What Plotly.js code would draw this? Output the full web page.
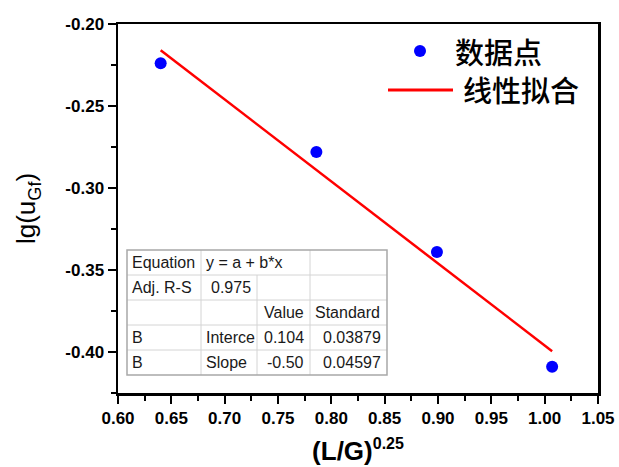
<!DOCTYPE html>
<html>
<head>
<meta charset="utf-8">
<script src="https://cdn.plot.ly/plotly-3.0.1.min.js"></script>
<style>
  html, body { margin: 0; padding: 0; background: #ffffff; }
  #chart { width: 619px; height: 467px; }
</style>
</head>
<body>
<div id="chart"></div>
<script>
// Measured points: x = (L/G)^0.25, y = lg(u_Gf)
const xValues = [0.640, 0.786, 0.899, 1.007];
const yValues = [-0.224, -0.278, -0.339, -0.409];

// Linear fit y = a + b*x
const fitIntercept = 0.104;
const fitSlope = -0.50;

// Axis ticks
const xTicks = [0.60, 0.65, 0.70, 0.75, 0.80, 0.85, 0.90, 0.95, 1.00, 1.05];
const yTicks = [-0.40, -0.35, -0.30, -0.25, -0.20];

// Legend labels
const seriesNames = ['数据点', '线性拟合'];

// Fit summary table (rows of cells)
const tableRows = [
  ['Equation', 'y = a + b*x', '', ''],
  ['Adj. R-S', '0.975', '', ''],
  ['', '', 'Value', 'Standard'],
  ['B', 'Interce', '0.104', '0.03879'],
  ['B', 'Slope', '-0.50', '0.04597']
];

const W = 619, H = 467;
const M = { l: 118, r: 21, t: 24, b: 74 };
const plotW = W - M.l - M.r, plotH = H - M.t - M.b;
const px = (x) => (x - M.l) / plotW;
const py = (y) => (H - M.b - y) / plotH;

const fitX = [Math.min(...xValues), Math.max(...xValues)];
const fitY = fitX.map(x => fitIntercept + fitSlope * x);

const traces = [
  {
    x: xValues, y: yValues, type: 'scatter', mode: 'markers', name: seriesNames[0],
    marker: { color: '#0000ff', size: 12 }, showlegend: false, cliponaxis: false
  },
  {
    x: fitX, y: fitY, type: 'scatter', mode: 'lines', name: seriesNames[1],
    line: { color: '#ff0000', width: 2.5 }, showlegend: false
  }
];

const shapes = [];
const annotations = [];

// Legend drawn as a small key in the upper right
shapes.push({ type: 'circle', xref: 'paper', yref: 'paper',
  x0: px(414), x1: px(426), y0: py(57), y1: py(45),
  fillcolor: '#0000ff', line: { width: 0 } });
shapes.push({ type: 'line', xref: 'paper', yref: 'paper',
  x0: px(388), x1: px(453), y0: py(90), y1: py(90),
  line: { color: '#ff0000', width: 3 } });
annotations.push({ xref: 'paper', yref: 'paper', x: px(453), y: py(51),
  xanchor: 'left', yanchor: 'middle', showarrow: false, text: seriesNames[0],
  font: { family: 'Noto Sans CJK SC', size: 29, color: '#000', weight: 500 } });
annotations.push({ xref: 'paper', yref: 'paper', x: px(461), y: py(89),
  xanchor: 'left', yanchor: 'middle', showarrow: false, text: seriesNames[1],
  font: { family: 'Noto Sans CJK SC', size: 29, color: '#000', weight: 500 } });

// Fit table
const colX = [127, 201, 257, 310, 387];
const rowY = [250, 275, 300, 325, 350, 375];
const innerLine = { color: '#d4d4d4', width: 1 };
shapes.push({ type: 'rect', xref: 'paper', yref: 'paper',
  x0: px(colX[0]), x1: px(colX[4]), y0: py(rowY[5]), y1: py(rowY[0]),
  fillcolor: '#ffffff', line: { width: 0 } });
for (let r = 1; r < rowY.length - 1; r++) {
  shapes.push({ type: 'line', xref: 'paper', yref: 'paper',
    x0: px(colX[0]), x1: px(colX[4]), y0: py(rowY[r]), y1: py(rowY[r]), line: innerLine });
}
shapes.push({ type: 'line', xref: 'paper', yref: 'paper',
  x0: px(colX[1]), x1: px(colX[1]), y0: py(rowY[0]), y1: py(rowY[5]), line: innerLine });
shapes.push({ type: 'line', xref: 'paper', yref: 'paper',
  x0: px(colX[2]), x1: px(colX[2]), y0: py(rowY[1]), y1: py(rowY[5]), line: innerLine });
shapes.push({ type: 'line', xref: 'paper', yref: 'paper',
  x0: px(colX[3]), x1: px(colX[3]), y0: py(rowY[0]), y1: py(rowY[5]), line: innerLine });
shapes.push({ type: 'rect', xref: 'paper', yref: 'paper',
  x0: px(colX[0]), x1: px(colX[4]), y0: py(rowY[5]), y1: py(rowY[0]),
  line: { color: '#a8a8a8', width: 1.5 } });

// Cell alignment: left for labels, right for numbers
const cellAlign = [
  ['l', 'l', 'l', 'l'],
  ['l', 'r', 'l', 'l'],
  ['l', 'l', 'r', 'l'],
  ['l', 'l', 'r', 'r'],
  ['l', 'l', 'r', 'r']
];
tableRows.forEach((row, r) => {
  row.forEach((txt, c) => {
    if (!txt) return;
    const left = cellAlign[r][c] === 'l';
    const xPos = left ? colX[c] + 3 : colX[c + 1] - 4;
    annotations.push({ xref: 'paper', yref: 'paper',
      x: px(xPos), y: py((rowY[r] + rowY[r + 1]) / 2),
      xanchor: left ? 'left' : 'right', yanchor: 'middle', showarrow: false, text: txt,
      font: { family: 'Liberation Sans, Arial, sans-serif', size: 16, color: '#1a1a1a' } });
  });
});

const axisCommon = {
  showline: true, linecolor: '#000', linewidth: 2.5, mirror: true,
  ticks: 'outside', ticklen: 8, tickwidth: 2, tickcolor: '#000',
  showgrid: false, zeroline: false, tickmode: 'array',
  tickfont: { family: 'Liberation Sans, Arial, sans-serif', size: 17, color: '#000', weight: 'bold' },
  minor: { ticks: 'outside', ticklen: 5, tickwidth: 2, tickcolor: '#000', showgrid: false }
};

const layout = {
  width: W, height: H,
  margin: M,
  paper_bgcolor: '#ffffff', plot_bgcolor: '#ffffff',
  showlegend: false,
  xaxis: Object.assign({}, axisCommon, {
    range: [0.60, 1.05],
    tickvals: xTicks, ticktext: xTicks.map(v => v.toFixed(2)),
    minor: Object.assign({}, axisCommon.minor, { tick0: 0.625, dtick: 0.05 }),
    title: { text: '<b>(L/G)<sup><span style="font-size:16px">0.25</span></sup></b>', standoff: 15,
      font: { family: 'Liberation Sans, Arial, sans-serif', size: 26, color: '#000' } }
  }),
  yaxis: Object.assign({}, axisCommon, {
    range: [-0.425, -0.20],
    tickvals: yTicks, ticktext: yTicks.map(v => v.toFixed(2)),
    minor: Object.assign({}, axisCommon.minor, { tick0: -0.425, dtick: 0.05 }),
    title: { text: 'lg(u<sub>Gf</sub>)', standoff: 22,
      font: { family: 'Liberation Sans, Arial, sans-serif', size: 26, color: '#000' } }
  }),
  shapes: shapes,
  annotations: annotations
};

Plotly.newPlot('chart', traces, layout, { displayModeBar: false, staticPlot: true });
</script>
</body>
</html>
